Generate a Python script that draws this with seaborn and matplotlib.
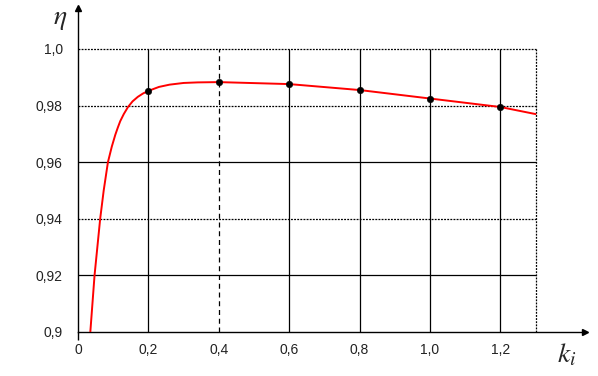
import matplotlib
matplotlib.use("Agg")
import matplotlib.pyplot as plt
import seaborn as sns
import pandas as pd

# curve
k_curve = [0.035, 0.047, 0.055, 0.063, 0.073, 0.085, 0.096, 0.106, 0.113, 0.120, 0.130,
           0.142, 0.155, 0.170, 0.185, 0.200, 0.230, 0.260, 0.300, 0.340, 0.400,
           0.600, 0.800, 1.000, 1.200, 1.300]
eta_curve = [0.900, 0.920, 0.930, 0.940, 0.950, 0.960, 0.9655, 0.9697, 0.9722, 0.9745, 0.9770,
             0.9795, 0.9815, 0.9831, 0.9843, 0.9852, 0.9866, 0.9874, 0.9880, 0.9882, 0.9883,
             0.9876, 0.9855, 0.9825, 0.9795, 0.9770]
# marked points
k_pts = [0.2, 0.4, 0.6, 0.8, 1.0, 1.2]
eta_pts = [0.9852, 0.9883, 0.9876, 0.9855, 0.9825, 0.9795]

x_ticks = [0, 0.2, 0.4, 0.6, 0.8, 1.0, 1.2]
x_labels = ["0", "0,2", "0,4", "0,6", "0,8", "1,0", "1,2"]
y_ticks = [0.90, 0.92, 0.94, 0.96, 0.98, 1.00]
y_labels = ["0,9", "0,92", "0,94", "0,96", "0,98", "1,0"]

sns.set_style("white")
plt.rcParams["font.family"] = ["Liberation Sans", "DejaVu Sans"]
plt.rcParams["mathtext.fontset"] = "stix"

fig = plt.figure(figsize=(5.98, 3.76), dpi=100)
ax = fig.add_axes([78 / 598, 44 / 376, (585 - 78) / 598, (332 - 8) / 376])
x_max = (585 - 78) / 352
y_max = 0.9 + (332 - 8) / 2830
ax.set_xlim(0, x_max)
ax.set_ylim(0.9, y_max)

# grid
xr = 1.3
dot = (0, (1.5, 1))
h_styles = {0.92: "-", 0.94: dot, 0.96: "-", 0.98: dot, 1.00: dot}
for y, ls in h_styles.items():
    ax.hlines(y, 0, xr, colors="black", linestyles=ls, linewidth=0.9, zorder=1)
v_styles = {0.2: "-", 0.4: (0, (4, 3)), 0.6: "-", 0.8: "-", 1.0: "-", 1.2: "-", 1.3: dot}
for x, ls in v_styles.items():
    ax.vlines(x, 0.9, 1.0, colors="black", linestyles=ls, linewidth=0.9, zorder=1)

df_curve = pd.DataFrame({"k": k_curve, "eta": eta_curve})
df_pts = pd.DataFrame({"k": k_pts, "eta": eta_pts})
sns.lineplot(data=df_curve, x="k", y="eta", ax=ax, color="red", linewidth=1.4,
             sort=False, zorder=3)
sns.scatterplot(data=df_pts, x="k", y="eta", ax=ax, color="black", s=22,
                edgecolor="black", zorder=4)

# axes
for s in ["top", "right"]:
    ax.spines[s].set_visible(False)
ax.spines["left"].set_color("black")
ax.spines["left"].set_linewidth(1.0)
ax.spines["bottom"].set_color("black")
ax.spines["bottom"].set_linewidth(1.0)
ax.spines["bottom"].set_linestyle(dot)
ax.plot(1, 0, ">", color="black", markersize=5, transform=ax.transAxes, clip_on=False)
ax.plot(0, 1, "^", color="black", markersize=5, transform=ax.transAxes, clip_on=False)

ax.xaxis.remove_overlapping_locs = False
ax.set_xticks(x_ticks)
ax.set_xticklabels(x_labels)
ax.set_xticks([0], minor=True)
ax.set_yticks(y_ticks)
ax.set_yticklabels(y_labels)
ax.tick_params(axis="x", which="major", length=0, pad=8, labelsize=10, labelcolor="#222222")
ax.tick_params(axis="x", which="minor", length=6, width=1, color="black", direction="out",
               bottom=True)
ax.tick_params(axis="y", length=0, pad=11, labelsize=10, labelcolor="#222222")
ax.set_xlabel("")
ax.set_ylabel("")

ax.text(-0.05, 1.0105, r"$\eta$", fontsize=20, ha="center", va="center", clip_on=False)
ax.text(1.388, 0.8918, r"$k_i$", fontsize=20, ha="center", va="center", clip_on=False)

fig.savefig("out.png", dpi=100)
